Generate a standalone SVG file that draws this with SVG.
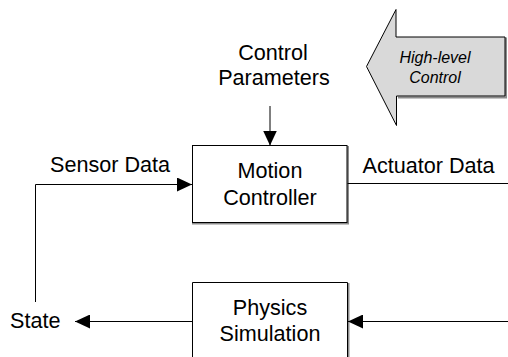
<svg xmlns="http://www.w3.org/2000/svg" width="508" height="357" viewBox="0 0 508 357">
<style>
text{font-family:"Liberation Sans",Arial,sans-serif;font-size:21.6px;fill:#000}
.c{text-anchor:middle}
.i{font-style:italic;font-size:16px}
.box{fill:#fff;stroke:#000;stroke-width:1}
.sh{fill:none;stroke:#8c8c8c;stroke-width:2}
.ln{fill:none;stroke:#000;stroke-width:1}
</style>
<defs>
<marker id="ah" viewBox="0 0 15 14" refX="15" refY="7" markerWidth="15" markerHeight="14" markerUnits="userSpaceOnUse" orient="auto">
<path d="M0,0 L15,7 L0,14 z" fill="#000"/>
</marker>
</defs>
<rect width="508" height="357" fill="#fff"/>
<g id="high-level-control">
<path d="M398,38.5 L506,38.5 L506,97.5 L398,97.5" class="sh"/>
<polygon points="366.5,66.5 396,9.5 396,37 505,37 505,96 396.5,96 396.5,125.5" fill="#d9d9d9" stroke="#000" stroke-width="1"/>
<text class="c i" x="435" y="63">High-level</text>
<text class="c i" x="435" y="83">Control</text>
</g>
<g id="motion-controller">
<path d="M348,146 L348,223.5 L192,223.5" class="sh"/>
<rect x="192.5" y="145.5" width="154.5" height="77" class="box"/>
<text class="c" x="270" y="178">Motion</text>
<text class="c" x="270" y="205">Controller</text>
</g>
<g id="physics-simulation">
<path d="M348.5,283 L348.5,357" class="sh"/>
<path d="M192.5,357 L192.5,282.5 L347.5,282.5 L347.5,357" class="box"/>
<text class="c" x="270" y="315">Physics</text>
<text class="c" x="270" y="340.5">Simulation</text>
</g>
<g id="labels">
<text class="c" x="273" y="60">Control</text>
<text class="c" x="274" y="85">Parameters</text>
<text x="50" y="171.5">Sensor Data</text>
<text x="362.5" y="172.5">Actuator Data</text>
<text x="10" y="327.5">State</text>
</g>
<g id="connectors">
<path d="M270,106 L270,145.5" class="ln" marker-end="url(#ah)"/>
<path d="M35.5,302 L35.5,184.5 L192,184.5" class="ln" marker-end="url(#ah)"/>
<path d="M347.5,183.5 L508,183.5" class="ln"/>
<path d="M192.5,321.5 L75,321.5" class="ln" marker-end="url(#ah)"/>
<path d="M508,321.5 L348,321.5" class="ln" marker-end="url(#ah)"/>
</g>
</svg>
